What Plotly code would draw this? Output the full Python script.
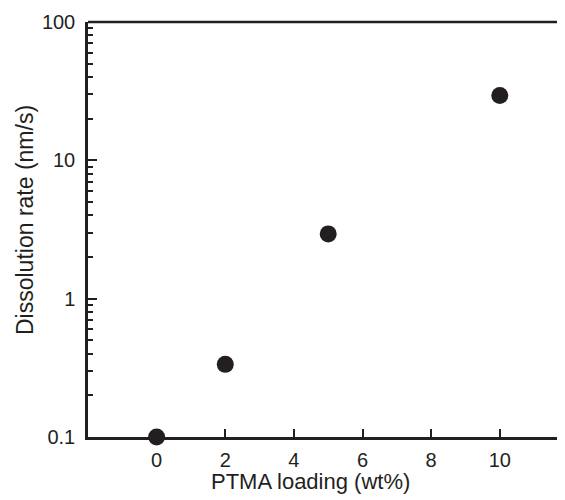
import plotly.graph_objects as go

ptma_loading = [0, 2, 5, 10]
dissolution_rate = [0.1, 0.335, 2.94, 29.4]

x_ticks = [0, 2, 4, 6, 8, 10]
y_ticks = [0.1, 1, 10, 100]
y_ticklabels = ["0.1", "1", "10", "100"]

ink = "#231f20"
font = "Liberation Sans, Arial, sans-serif"

# page body has an 8px default margin, so the figure is sized to fit the window
fig = go.Figure()
fig.add_trace(go.Scatter(
    x=ptma_loading, y=dissolution_rate, mode="markers",
    marker=dict(size=17, color=ink, line=dict(width=0)),
    cliponaxis=False, showlegend=False,
))

fig.update_layout(
    width=557, height=492,
    margin=dict(l=80, r=0, t=14, b=63),
    paper_bgcolor="white", plot_bgcolor="white",
    font=dict(family=font, size=20, color=ink),
    xaxis=dict(
        range=[-2, 11.9], tickvals=x_ticks, ticks="inside", ticklen=8,
        tickwidth=2, tickcolor=ink, showline=True, linecolor=ink, linewidth=2.5,
        showgrid=False, zeroline=False, mirror=False,
        tickfont=dict(size=20, color=ink), ticklabelstandoff=3,
    ),
    yaxis=dict(
        type="log", range=[-1, 2], tickvals=y_ticks, ticktext=y_ticklabels,
        ticks="inside", ticklen=9, tickwidth=2, tickcolor=ink,
        showline=True, linecolor=ink, linewidth=2.5, showgrid=False,
        zeroline=False, tickfont=dict(size=20, color=ink), ticklabelstandoff=6,
        minor=dict(ticks="inside", ticklen=5, tickwidth=2, tickcolor=ink,
                   showgrid=False, dtick="D1"),
    ),
    shapes=[dict(type="line", xref="paper", yref="paper", x0=0, x1=1, y0=1, y1=1,
                 line=dict(color=ink, width=2.5))],
    annotations=[
        dict(text="PTMA loading (wt%)", xref="paper", yref="paper",
             x=(310 - 88) / 477, y=-(481 - 437) / 415, xanchor="center", yanchor="middle",
             showarrow=False, font=dict(size=22, color=ink)),
        dict(text="Dissolution rate (nm/s)", xref="paper", yref="paper",
             x=-(88 - 25) / 477, y=(437 - 220) / 415, xanchor="center", yanchor="middle",
             textangle=-90, showarrow=False, font=dict(size=23, color=ink)),
    ],
)

fig.write_html("out.html")
